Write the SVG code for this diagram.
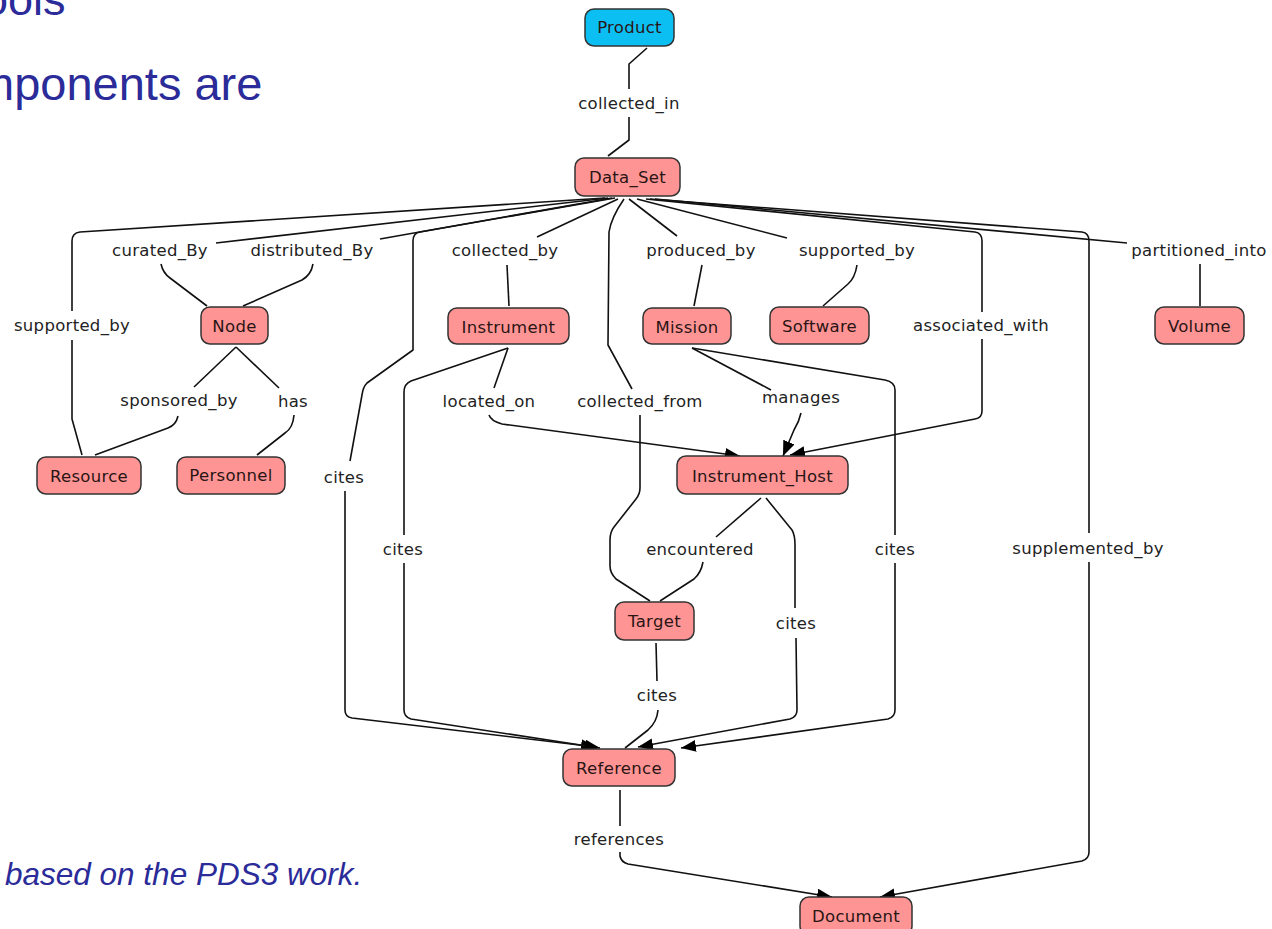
<svg xmlns="http://www.w3.org/2000/svg" width="1272" height="929" viewBox="0 0 1272 929">
<style>
.t{font-family:"Liberation Sans",Arial,sans-serif;fill:#2B2B99}
.c{fill:none;stroke:#111;stroke-width:1.6;stroke-linejoin:round}
.a{marker-end:url(#arr)}
.lb{font-family:"DejaVu Sans",Verdana,sans-serif;font-size:16.5px;letter-spacing:0.3px;fill:#222;text-anchor:middle}
.n rect{fill:#FF9494;stroke:#333;stroke-width:1.5}
.n text{font-family:"DejaVu Sans",Verdana,sans-serif;font-size:16.5px;letter-spacing:0.3px;fill:#2a1515;text-anchor:middle}
#Product rect{fill:#0BBFF2}
</style>
<defs>
<marker id="arr" markerUnits="userSpaceOnUse" markerWidth="16" markerHeight="13" refX="15" refY="6" orient="auto">
<path d="M0,0 L15,6 L0,12 Z" fill="#000"/>
</marker>
</defs>
<rect width="1272" height="929" fill="#fff"/>
<text class="t" x="-17" y="15" font-size="45">ools</text>
<text class="t" x="-25" y="100" font-size="47">mponents are</text>
<text class="t" x="5" y="885" font-size="31.5" font-style="italic">based on the PDS3 work.</text>

<g id="connectors">
<!-- collected_in -->
<path class="c" d="M647,48 L629,64 L629,89"/>
<path class="c" d="M629,117 L629,140 L608,156"/>
<!-- supported_by Resource -->
<path class="c" d="M605,198 L80,232 Q72,233 72,241 L72,311"/>
<path class="c" d="M72,340 L72,419 L82,455"/>
<!-- curated_By -->
<path class="c" d="M608,198 L216,243"/>
<path class="c" d="M161,264 Q163,273 170,278 L207,306"/>
<!-- distributed_By -->
<path class="c" d="M612,198 L380,239"/>
<path class="c" d="M313,264 Q311,275 302,280 L243,306"/>
<!-- cites (Data_Set -> Reference) -->
<path class="c" d="M615,198 L420,232 Q413,233 413,241 L413,350 L367,383 Q363,387 362,395 L350,461"/>
<path class="c a" d="M345,491 L345,710 Q345,717 352,718 L596,747"/>
<!-- cites (Instrument -> Reference) -->
<path class="c" d="M508,348 L411,381 Q404,384 404,392 L404,535"/>
<path class="c a" d="M404,563 L404,710 Q404,717 411,719 L600,748"/>
<!-- located_on -->
<path class="c" d="M508,348 L494,388"/>
<path class="c a" d="M489,415 Q491,421 502,424 L740,456"/>
<!-- collected_by -->
<path class="c" d="M618,199 L537,237"/>
<path class="c" d="M507,265 L509,306"/>
<!-- collected_from -->
<path class="c" d="M624,199 Q611,218 609,232 L608,345 L632,389"/>
<path class="c" d="M640,415 L640,488 Q640,494 636,499 L614,527 Q610,532 610,540 L610,566 Q610,573 616,579 L650,601"/>
<!-- produced_by -->
<path class="c" d="M629,199 L677,236"/>
<path class="c" d="M702,265 L694,306"/>
<!-- supported_by Software -->
<path class="c" d="M637,199 L787,238"/>
<path class="c" d="M857,265 Q855,278 848,284 L823,306"/>
<!-- associated_with -->
<path class="c" d="M646,199 L975,232 Q982,233 982,241 L982,312"/>
<path class="c a" d="M982,339 L982,411 Q982,418 975,419 L790,455"/>
<!-- supplemented_by -->
<path class="c" d="M650,199 L1082,232 Q1089,233 1089,241 L1089,533"/>
<path class="c a" d="M1089,562 L1089,852 Q1089,859 1082,861 L880,897"/>
<!-- partitioned_into -->
<path class="c" d="M655,199 L1127,243"/>
<path class="c" d="M1200,264 L1200,306"/>
<!-- sponsored_by -->
<path class="c" d="M236,347 L194,387"/>
<path class="c" d="M178,416 Q176,425 168,428 L95,455"/>
<!-- has -->
<path class="c" d="M236,347 L279,388"/>
<path class="c" d="M294,415 Q293,428 285,433 L257,455"/>
<!-- manages -->
<path class="c" d="M692,348 L771,390"/>
<path class="c a" d="M801,413 Q799,422 794,430 L783,456"/>
<!-- cites (Mission -> Reference) -->
<path class="c" d="M692,348 L885,380 Q895,382 895,390 L895,535"/>
<path class="c a" d="M895,563 L895,710 Q895,717 888,719 L681,748"/>
<!-- encountered -->
<path class="c" d="M761,498 L716,537"/>
<path class="c" d="M703,562 Q701,573 694,579 L660,601"/>
<!-- cites (Instrument_Host -> Reference) -->
<path class="c" d="M766,498 L792,530 Q795,535 795,545 L795,608"/>
<path class="c a" d="M796,638 L797,710 Q797,717 790,719 L638,747"/>
<!-- cites (Target -> Reference) -->
<path class="c" d="M656,643 L657,681"/>
<path class="c" d="M658,710 Q657,722 648,730 L625,748"/>
<!-- references -->
<path class="c" d="M620,790 L620,826"/>
<path class="c a" d="M620,852 L620,856 Q621,862 628,864 L832,897"/>

<text class="lb" x="629" y="109">collected_in</text>
<text class="lb" x="160" y="256">curated_By</text>
<text class="lb" x="312" y="256">distributed_By</text>
<text class="lb" x="505" y="256">collected_by</text>
<text class="lb" x="701" y="256">produced_by</text>
<text class="lb" x="857" y="256">supported_by</text>
<text class="lb" x="1199" y="256">partitioned_into</text>
<text class="lb" x="72" y="331">supported_by</text>
<text class="lb" x="981" y="331">associated_with</text>
<text class="lb" x="179" y="406">sponsored_by</text>
<text class="lb" x="293" y="407">has</text>
<text class="lb" x="489" y="407">located_on</text>
<text class="lb" x="640" y="407">collected_from</text>
<text class="lb" x="801" y="403">manages</text>
<text class="lb" x="344" y="483">cites</text>
<text class="lb" x="403" y="555">cites</text>
<text class="lb" x="700" y="555">encountered</text>
<text class="lb" x="895" y="555">cites</text>
<text class="lb" x="1088" y="554">supplemented_by</text>
<text class="lb" x="796" y="629">cites</text>
<text class="lb" x="657" y="701">cites</text>
<text class="lb" x="619" y="845">references</text>
</g>

<g id="Product" class="n"><rect x="585" y="9" width="89" height="37" rx="9"/><text x="629.5" y="33">Product</text></g>
<g id="Data_Set" class="n"><rect x="575" y="158" width="105" height="38" rx="9"/><text x="627.5" y="183">Data_Set</text></g>
<g id="Node" class="n"><rect x="201" y="307" width="67" height="37" rx="9"/><text x="234.5" y="332">Node</text></g>
<g id="Instrument" class="n"><rect x="448" y="308" width="121" height="36" rx="9"/><text x="508.5" y="333">Instrument</text></g>
<g id="Mission" class="n"><rect x="643" y="308" width="88" height="36" rx="9"/><text x="687" y="333">Mission</text></g>
<g id="Software" class="n"><rect x="770" y="307" width="99" height="37" rx="9"/><text x="819.5" y="332">Software</text></g>
<g id="Volume" class="n"><rect x="1155" y="307" width="89" height="37" rx="9"/><text x="1199.5" y="332">Volume</text></g>
<g id="Resource" class="n"><rect x="37" y="457" width="104" height="37" rx="9"/><text x="89" y="482">Resource</text></g>
<g id="Personnel" class="n"><rect x="177" y="457" width="108" height="37" rx="9"/><text x="231" y="481">Personnel</text></g>
<g id="Instrument_Host" class="n"><rect x="677" y="456" width="171" height="38" rx="9"/><text x="762.5" y="482">Instrument_Host</text></g>
<g id="Target" class="n"><rect x="615" y="602" width="79" height="38" rx="9"/><text x="654.5" y="627">Target</text></g>
<g id="Reference" class="n"><rect x="563" y="749" width="112" height="37" rx="9"/><text x="619" y="774">Reference</text></g>
<g id="Document" class="n"><rect x="800" y="897" width="112" height="38" rx="9"/><text x="856" y="922">Document</text></g>
</svg>
